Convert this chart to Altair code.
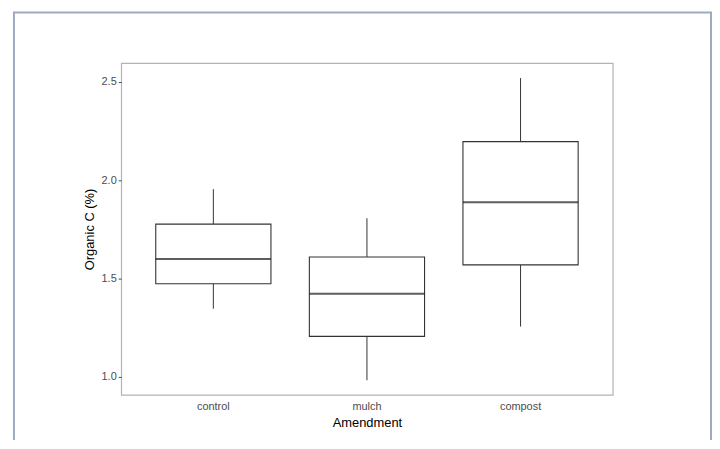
import altair as alt
import pandas as pd

amendment = ["control", "mulch", "compost"]
whisker_low = [1.347, 0.983, 1.256]
q1 = [1.474, 1.206, 1.570]
median = [1.600, 1.423, 1.888]
q3 = [1.777, 1.610, 2.197]
whisker_high = [1.955, 1.807, 2.520]
y_ticks = [1.0, 1.5, 2.0, 2.5]

df = pd.DataFrame({
    "Amendment": amendment,
    "lo": whisker_low,
    "q1": q1,
    "med": median,
    "q3": q3,
    "hi": whisker_high,
})

xenc = alt.X("Amendment:N", sort=amendment,
             scale=alt.Scale(paddingInner=0, paddingOuter=0.1),
             axis=alt.Axis(title="Amendment", labelAngle=0, ticks=False, domain=False,
                           labelPadding=6, labelFontSize=11, labelColor="#4d4d4d",
                           titleFontSize=13, titleColor="#000000", titleFontWeight="normal",
                           titlePadding=5, labelFont="Liberation Sans", titleFont="Liberation Sans"))
yscale = alt.Scale(domain=[0.909, 2.596], nice=False, zero=False)
yaxis = alt.Axis(title="Organic C (%)", values=y_ticks, format=".1f", grid=False, domain=False,
                 tickSize=3, tickColor="#4d4d4d", labelPadding=2, labelFontSize=11,
                 labelColor="#4d4d4d", titleFontSize=13, titleColor="#000000",
                 titleFontWeight="normal", titlePadding=5,
                 labelFont="Liberation Sans", titleFont="Liberation Sans")

base = alt.Chart(df)

whisk_top = base.mark_rule(color="#333333", strokeWidth=1).encode(
    x=xenc, y=alt.Y("q3:Q", scale=yscale, axis=yaxis), y2="hi:Q")
whisk_bot = base.mark_rule(color="#333333", strokeWidth=1).encode(
    x=xenc, y=alt.Y("lo:Q", scale=yscale, axis=yaxis), y2="q1:Q")
box = base.mark_bar(width=alt.RelativeBandSize(0.75), fill="white", stroke="#333333",
                    strokeWidth=1.1).encode(
    x=xenc, y=alt.Y("q1:Q", scale=yscale, axis=yaxis), y2="q3:Q")
med = base.mark_tick(thickness=2, size=alt.ExprRef("bandwidth('x')*0.75"), color="#1a1a1a").encode(
    x=xenc, y=alt.Y("med:Q", scale=yscale, axis=yaxis))

frame_color = "#9dabc1"
fl = alt.Chart(pd.DataFrame({"a": [0]})).mark_rule(color=frame_color, strokeWidth=2).encode(
    x=alt.value(-108), y=alt.value(-51), y2=alt.value(400))
fr = alt.Chart(pd.DataFrame({"a": [0]})).mark_rule(color=frame_color, strokeWidth=2).encode(
    x=alt.value(594), y=alt.value(-51), y2=alt.value(400))
ft = alt.Chart(pd.DataFrame({"a": [0]})).mark_rule(color=frame_color, strokeWidth=2).encode(
    x=alt.value(-109), x2=alt.value(595), y=alt.value(-51))

chart = alt.layer(whisk_top, whisk_bot, box, med, fl, fr, ft).properties(
    width=495, height=334,
    padding={"left": 114, "top": 54, "right": 100, "bottom": 44},
    autosize=alt.AutoSizeParams(type="none"),
    background="white",
).configure_view(stroke="#b3b3b3", strokeWidth=1.2)

chart.save("out.html", embed_options={"renderer": "svg", "actions": False})
